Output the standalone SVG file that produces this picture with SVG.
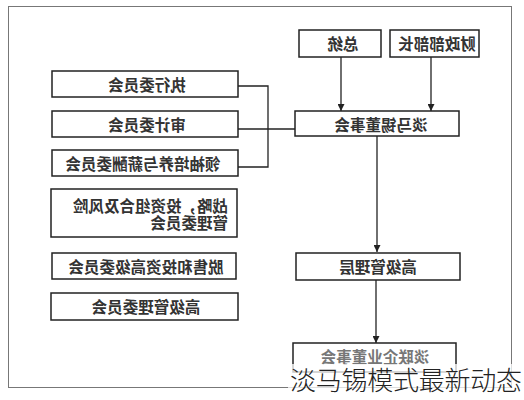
<svg xmlns="http://www.w3.org/2000/svg" width="524" height="400" viewBox="0 0 524 400">
<defs>
<style>
.box{fill:#fff;stroke:#222;stroke-width:1.5}
.t{font-family:"Noto Sans CJK SC","Noto Sans CJK JP",sans-serif;font-size:15.5px;font-weight:bold;fill:#333;text-anchor:middle;dominant-baseline:central}
.l{fill:none;stroke:#222;stroke-width:1.3}
</style>
<marker id="ah" viewBox="0 0 10 10" refX="10" refY="5" markerWidth="7" markerHeight="7" markerUnits="userSpaceOnUse" orient="auto"><path d="M0,0 L10,5 L0,10 z" fill="#222"/></marker>
</defs>
<rect width="524" height="400" fill="#fff"/>
<rect x="8.5" y="6.5" width="503" height="381" fill="none" stroke="#777" stroke-width="1"/>
<g id="connectors">
<path class="l" d="M341,57 V111" marker-end="url(#ah)"/>
<path class="l" d="M431,57 V111" marker-end="url(#ah)"/>
<path class="l" d="M238,86 H268 V167 H238"/>
<path class="l" d="M238,129 H295"/>
<path class="l" d="M377,136 V252" marker-end="url(#ah)"/>
<path class="l" d="M376,280 V343" marker-end="url(#ah)"/>
</g>
<g id="president"><rect class="box" x="299" y="30" width="82" height="27"/><text class="t" transform="matrix(-1 0 0 1 343 43)">总统</text></g>
<g id="minister"><rect class="box" x="390" y="30" width="89" height="27"/><text class="t" transform="matrix(-1 0 0 1 437 43)">财政部部长</text></g>
<g id="board"><rect class="box" x="295" y="111" width="164" height="25"/><text class="t" transform="matrix(-1 0 0 1 381 124)">淡马锡董事会</text></g>
<g id="exec"><rect class="box" x="52" y="71" width="186" height="26"/><text class="t" transform="matrix(-1 0 0 1 147 84)">执行委员会</text></g>
<g id="audit"><rect class="box" x="52" y="111" width="186" height="26"/><text class="t" transform="matrix(-1 0 0 1 147 124)">审计委员会</text></g>
<g id="leadership"><rect class="box" x="52" y="150" width="186" height="26"/><text class="t" transform="matrix(-1 0 0 1 143 163)">领袖培养与薪酬委员会</text></g>
<g id="strategy"><rect class="box" x="51" y="189" width="186" height="48"/><text class="t" style="text-anchor:start" transform="matrix(-1 0 0 1 228 205)">战略，投资组合及风险</text><text class="t" style="text-anchor:start" transform="matrix(-1 0 0 1 228 222)">管理委员会</text></g>
<g id="divest"><rect class="box" x="52" y="253" width="184" height="26"/><text class="t" transform="matrix(-1 0 0 1 146 266)">脱售和投资高级委员会</text></g>
<g id="seniormgmtcom"><rect class="box" x="51" y="293" width="187" height="27"/><text class="t" transform="matrix(-1 0 0 1 146 306)">高级管理委员会</text></g>
<g id="seniormgmt"><rect class="box" x="296" y="253" width="164" height="27"/><text class="t" transform="matrix(-1 0 0 1 378 266)">高级管理层</text></g>
<g id="linked"><rect class="box" x="293" y="343" width="163" height="29"/><text class="t" style="fill:#777" transform="matrix(-1 0 0 1 375 356)">淡联企业董事会</text></g>
<rect x="288" y="364" width="236" height="36" fill="#fff" opacity="0.75"/>
<text x="290" y="390" font-family="Noto Sans CJK SC,sans-serif" font-size="26" font-weight="300" fill="#222" textLength="232">淡马锡模式最新动态</text>
</svg>
